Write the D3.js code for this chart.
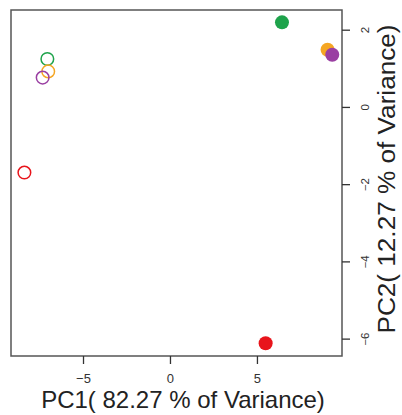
<!DOCTYPE html>
<html><head><meta charset="utf-8">
<script src="https://cdn.jsdelivr.net/npm/d3@7"></script>
<style>body{margin:0;background:#fff}svg{display:block}</style>
</head><body>
<svg id="c" width="402" height="415"></svg>
<script>
const groups = ["g1","g2","g3","g4","g5","g6","g7","g8"];
const pc1 = [6.44, 9.06, 9.33, 5.5, -7.05, -7.0, -7.32, -8.37];
const pc2 = [2.19, 1.48, 1.35, -6.12, 1.24, 0.92, 0.76, -1.70];
const colors = ["#1ea34b", "#f5a623", "#9a3fa2", "#e8141b", "#1ea34b", "#f5a623", "#9a3fa2", "#e8141b"];
const filled = [true, true, true, true, false, false, false, false];
const xTicks = [-5, 0, 5];
const yTicks = [2, 0, -2, -4, -6];
const xTitle = "PC1( 82.27 % of Variance)";
const yTitle = "PC2( 12.27 % of Variance)";

const FONT = "Liberation Sans, Arial, sans-serif";
const svg = d3.select("#c");
const L = 11, R = 342, T = 10, B = 356;
const x = d3.scaleLinear().domain([-9.14, 9.89]).range([L, R]);
const y = d3.scaleLinear().domain([-6.45, 2.51]).range([B, T]);
const fmt = d => d < 0 ? "\u2212" + Math.abs(d) : String(d);

// points
const data = pc1.map((v, i) => ({x: v, y: pc2[i], c: colors[i], f: filled[i]}));
const order = [4,5,6,7,0,1,3,2];
svg.append("g").selectAll("circle").data(order.map(i => data[i])).join("circle")
  .attr("cx", d => x(d.x)).attr("cy", d => y(d.y))
  .attr("r", d => d.f ? 7 : 6.3)
  .attr("fill", d => d.f ? d.c : "none")
  .attr("stroke", d => d.f ? "none" : d.c)
  .attr("stroke-width", 1.5);

// frame
svg.append("rect").attr("x", L).attr("y", T).attr("width", R - L).attr("height", B - T)
  .attr("fill", "none").attr("stroke", "#555").attr("stroke-width", 1.5);

// x axis
const xa = svg.append("g").attr("transform", `translate(0,${B})`)
  .call(d3.axisBottom(x).tickValues(xTicks).tickSize(8).tickSizeOuter(0).tickFormat(fmt));
xa.select(".domain").remove();
xa.selectAll("line").attr("stroke", "#333").attr("stroke-width", 1.3);
xa.selectAll("text").attr("font-family", FONT)
  .attr("font-size", 13).attr("fill", "#333").attr("y", 18);

// y axis right
const ya = svg.append("g").attr("transform", `translate(${R},0)`)
  .call(d3.axisRight(y).tickValues(yTicks).tickSize(8).tickSizeOuter(0).tickFormat(fmt));
ya.select(".domain").remove();
ya.selectAll("line").attr("stroke", "#333").attr("stroke-width", 1.3);
ya.selectAll("text").attr("font-family", FONT)
  .attr("font-size", 10.5).attr("fill", "#333")
  .attr("x", null).attr("dy", null).attr("y", 0)
  .attr("transform", "translate(23.5,0) rotate(-90) scale(1.09,1)")
  .attr("dominant-baseline", "central")
  .attr("text-anchor", "middle");

// titles
svg.append("text").attr("x", 183).attr("y", 408).attr("text-anchor", "middle")
  .attr("font-family", FONT).attr("font-size", 24)
  .attr("fill", "#222").text(xTitle);
svg.append("text").attr("transform", `translate(395,179) rotate(-90) scale(1.09,1)`)
  .attr("text-anchor", "middle")
  .attr("font-family", FONT).attr("font-size", 24)
  .attr("fill", "#222").text(yTitle);
</script>
</body></html>
